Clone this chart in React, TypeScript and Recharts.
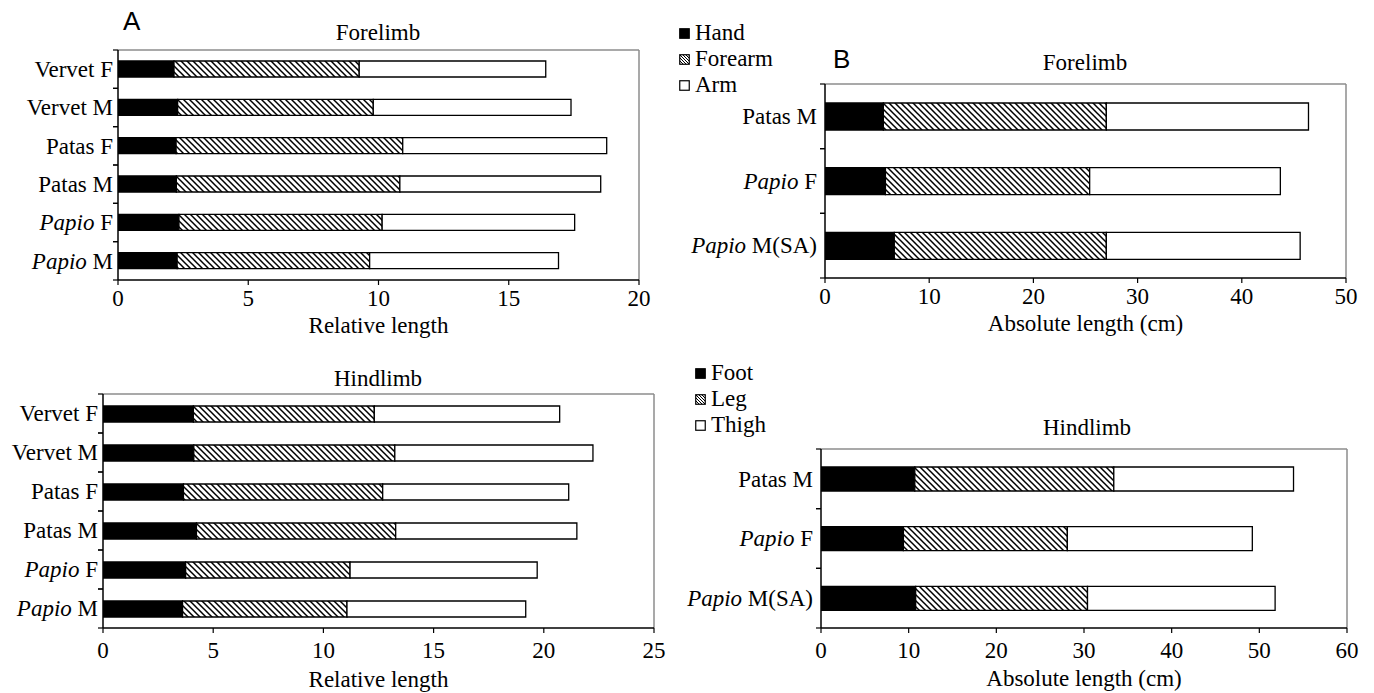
import React from "react";
import { Bar, BarChart, CartesianGrid, XAxis, YAxis } from "recharts";

const SERIF = '"Liberation Serif", "Times New Roman", serif';
const SANS = '"Liberation Sans", Arial, sans-serif';

// relative lengths (panel A)
const relCategories = ["Vervet F", "Vervet M", "Patas F", "Patas M", "Papio F", "Papio M"];
const relForeHand = [2.15, 2.29, 2.23, 2.24, 2.34, 2.27];
const relForeForearm = [7.11, 7.51, 8.7, 8.58, 7.8, 7.39];
const relForeArm = [7.16, 7.59, 7.83, 7.71, 7.39, 7.25];
const relHindFoot = [4.1, 4.12, 3.65, 4.24, 3.75, 3.61];
const relHindLeg = [8.21, 9.12, 9.04, 9.04, 7.46, 7.46];
const relHindThigh = [8.41, 8.99, 8.44, 8.22, 8.49, 8.11];

// absolute lengths in cm (panel B)
const absCategories = ["Patas M", "Papio F", "Papio M(SA)"];
const absForeHand = [5.6, 5.8, 6.65];
const absForeForearm = [21.4, 19.6, 20.35];
const absForeArm = [19.4, 18.3, 18.6];
const absHindFoot = [10.7, 9.4, 10.8];
const absHindLeg = [22.7, 18.7, 19.6];
const absHindThigh = [20.5, 21.1, 21.4];

const foreSegments = ["Hand", "Forearm", "Arm"];
const hindSegments = ["Foot", "Leg", "Thigh"];

const relForeTicks = [0, 5, 10, 15, 20];
const relHindTicks = [0, 5, 10, 15, 20, 25];
const absForeTicks = [0, 10, 20, 30, 40, 50];
const absHindTicks = [0, 10, 20, 30, 40, 50, 60];

function CategoryTick(props: any) {
  const { x, y, payload, bandHalf, gap } = props;
  const label = String(payload.value);
  const half = payload.offset || bandHalf;
  const italic = label.startsWith("Papio");
  return (
    <g>
      <line x1={x} x2={x + 5} y1={y - half} y2={y - half} stroke="#000" strokeWidth={1.2} />
      <line x1={x} x2={x + 5} y1={y + half} y2={y + half} stroke="#000" strokeWidth={1.2} />
      <text
        x={x - gap}
        y={y}
        dy="0.34em"
        textAnchor="end"
        fill="#000"
        fontSize={23}
        fontFamily={SERIF}
      >
        {italic ? (
          <>
            <tspan fontStyle="italic">Papio</tspan>
            <tspan>{label.slice(5)}</tspan>
          </>
        ) : (
          label
        )}
      </text>
    </g>
  );
}

type PanelProps = {
  id: string;
  left: number;
  top: number;
  width: number;
  height: number;
  plotTop: number;
  plotRight: number;
  yAxisWidth: number;
  xAxisHeight: number;
  categories: string[];
  names: string[];
  first: number[];
  second: number[];
  third: number[];
  ticks: number[];
  xLabel: string;
  barSize: number;
  labelGap: number;
  tickGap: number;
  xLabelOffset: number;
};

function LimbPanel(p: PanelProps) {
  const data = p.categories.map((name, i) => ({
    name,
    first: p.first[i],
    second: p.second[i],
    third: p.third[i],
  }));
  const bandHalf = (p.height - p.plotTop - p.xAxisHeight) / p.categories.length / 2;
  const hatch = `hatch-${p.id}`;
  const max = p.ticks[p.ticks.length - 1];

  return (
    <div style={{ position: "absolute", left: p.left, top: p.top }}>
      <BarChart
        width={p.width}
        height={p.height}
        data={data}
        layout="vertical"
        margin={{ top: p.plotTop, right: p.plotRight, left: 0, bottom: 0 }}
      >
        <defs>
          <pattern id={hatch} patternUnits="userSpaceOnUse" width={6} height={6}>
            <rect width={6} height={6} fill="#fff" />
            <path d="M-1,5 l2,2 M0,0 l6,6 M5,-1 l2,2" stroke="#000" strokeWidth={1.5} />
          </pattern>
        </defs>
        <CartesianGrid
          stroke="#8c8c8c"
          strokeWidth={1.5}
          horizontalCoordinatesGenerator={({ offset }: any) => [offset.top]}
          verticalCoordinatesGenerator={({ offset }: any) => [offset.left + offset.width]}
        />
        <XAxis
          type="number"
          domain={[0, max]}
          ticks={p.ticks}
          interval={0}
          allowDataOverflow
          height={p.xAxisHeight}
          tickSize={5}
          tickMargin={p.tickGap}
          axisLine={{ stroke: "#000", strokeWidth: 1.5 }}
          tickLine={{ stroke: "#000", strokeWidth: 1.2 }}
          tick={{ fill: "#000", fontSize: 23, fontFamily: SERIF }}
          label={{
            value: p.xLabel,
            position: "insideTop",
            offset: p.xLabelOffset,
            fill: "#000",
            fontSize: 23,
            fontFamily: SERIF,
          }}
        />
        <YAxis
          type="category"
          dataKey="name"
          width={p.yAxisWidth}
          interval={0}
          tickSize={0}
          tickMargin={5}
          tickLine={false}
          axisLine={{ stroke: "#000", strokeWidth: 1.5 }}
          tick={<CategoryTick bandHalf={bandHalf} gap={p.labelGap} />}
        />
        <Bar
          dataKey="first"
          name={p.names[0]}
          stackId="limb"
          fill="#000"
          stroke="#000"
          strokeWidth={1.3}
          barSize={p.barSize}
          isAnimationActive={false}
        />
        <Bar
          dataKey="second"
          name={p.names[1]}
          stackId="limb"
          fill={`url(#${hatch})`}
          stroke="#000"
          strokeWidth={1.3}
          barSize={p.barSize}
          isAnimationActive={false}
        />
        <Bar
          dataKey="third"
          name={p.names[2]}
          stackId="limb"
          fill="#fff"
          stroke="#000"
          strokeWidth={1.3}
          barSize={p.barSize}
          isAnimationActive={false}
        />
      </BarChart>
    </div>
  );
}

function Swatch({ kind }: { kind: number }) {
  return (
    <svg width={11} height={11} style={{ display: "block" }}>
      <defs>
        <pattern id="legend-hatch" patternUnits="userSpaceOnUse" width={3} height={3}>
          <rect width={3} height={3} fill="#fff" />
          <path d="M0,0 l3,3" stroke="#000" strokeWidth={1} />
        </pattern>
      </defs>
      <rect
        x={0.75}
        y={0.75}
        width={9.5}
        height={9.5}
        fill={kind === 0 ? "#000" : kind === 1 ? "url(#legend-hatch)" : "#fff"}
        stroke="#000"
        strokeWidth={1.2}
      />
    </svg>
  );
}

function LegendBlock({ left, top, names }: { left: number; top: number; names: string[] }) {
  return (
    <div style={{ position: "absolute", left, top }}>
      {names.map((name, i) => (
        <div
          key={name}
          style={{ display: "flex", alignItems: "center", height: 26, fontSize: 23, fontFamily: SERIF }}
        >
          <Swatch kind={i} />
          <span style={{ marginLeft: 5, lineHeight: "26px" }}>{name}</span>
        </div>
      ))}
    </div>
  );
}

function Title({ text, cx, cy }: { text: string; cx: number; cy: number }) {
  return (
    <div
      style={{
        position: "absolute",
        left: cx - 100,
        top: cy - 13,
        width: 200,
        textAlign: "center",
        fontSize: 23,
        lineHeight: "26px",
        fontFamily: SERIF,
      }}
    >
      {text}
    </div>
  );
}

function PanelLetter({ text, left, top }: { text: string; left: number; top: number }) {
  return (
    <div style={{ position: "absolute", left, top, fontSize: 26, lineHeight: "26px", fontFamily: SANS }}>
      {text}
    </div>
  );
}

export default function App() {
  return (
    <div
      style={{
        position: "absolute",
        left: 0,
        top: 0,
        width: 1374,
        height: 693,
        background: "#fff",
        color: "#000",
        fontFamily: SERIF,
      }}
    >
      <LimbPanel
        id="a-fore"
        left={0}
        top={0}
        width={680}
        height={345}
        plotTop={50}
        plotRight={41}
        yAxisWidth={118}
        xAxisHeight={65}
        categories={relCategories}
        names={foreSegments}
        first={relForeHand}
        second={relForeForearm}
        third={relForeArm}
        ticks={relForeTicks}
        xLabel="Relative length"
        barSize={16}
        labelGap={0}
        tickGap={5}
        xLabelOffset={37}
      />
      <LimbPanel
        id="a-hind"
        left={0}
        top={345}
        width={690}
        height={348}
        plotTop={49}
        plotRight={36}
        yAxisWidth={103}
        xAxisHeight={65}
        categories={relCategories}
        names={hindSegments}
        first={relHindFoot}
        second={relHindLeg}
        third={relHindThigh}
        ticks={relHindTicks}
        xLabel="Relative length"
        barSize={16}
        labelGap={0}
        tickGap={9}
        xLabelOffset={43}
      />
      <LimbPanel
        id="b-fore"
        left={660}
        top={0}
        width={714}
        height={345}
        plotTop={84}
        plotRight={28}
        yAxisWidth={165}
        xAxisHeight={67}
        categories={absCategories}
        names={foreSegments}
        first={absForeHand}
        second={absForeForearm}
        third={absForeArm}
        ticks={absForeTicks}
        xLabel="Absolute length (cm)"
        barSize={27}
        labelGap={3}
        tickGap={5}
        xLabelOffset={37}
      />
      <LimbPanel
        id="b-hind"
        left={660}
        top={345}
        width={714}
        height={348}
        plotTop={104}
        plotRight={27}
        yAxisWidth={161}
        xAxisHeight={65}
        categories={absCategories}
        names={hindSegments}
        first={absHindFoot}
        second={absHindLeg}
        third={absHindThigh}
        ticks={absHindTicks}
        xLabel="Absolute length (cm)"
        barSize={24}
        labelGap={3}
        tickGap={9}
        xLabelOffset={42}
      />

      <Title text="Forelimb" cx={378} cy={33} />
      <Title text="Hindlimb" cx={378} cy={379} />
      <Title text="Forelimb" cx={1085} cy={63} />
      <Title text="Hindlimb" cx={1087} cy={428} />

      <PanelLetter text="A" left={123} top={8} />
      <PanelLetter text="B" left={833} top={46} />

      <LegendBlock left={679} top={20} names={foreSegments} />
      <LegendBlock left={695} top={360} names={hindSegments} />
    </div>
  );
}
